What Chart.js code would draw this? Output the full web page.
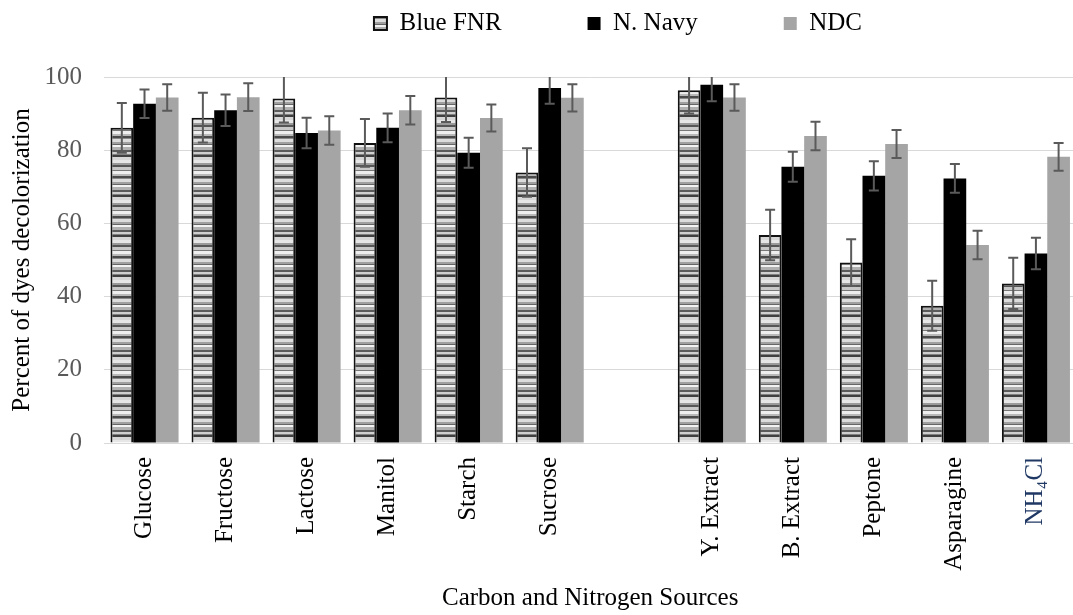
<!DOCTYPE html>
<html>
<head>
<meta charset="utf-8">
<script src="https://cdn.jsdelivr.net/npm/chart.js@4.4.1/dist/chart.umd.min.js"></script>
<style>
html, body { margin: 0; padding: 0; background: #fff; overflow: hidden; }
#contenedor { width: 1080px; height: 615px; position: relative; }
</style>
</head>
<body>
<div id="contenedor"><canvas id="grafico"></canvas></div>
<script>
// Datos del gráfico
var categorias = ['Glucose', 'Fructose', 'Lactose', 'Manitol', 'Starch', 'Sucrose', '',
                  'Y. Extract', 'B. Extract', 'Peptone', 'Asparagine', 'NH\u2084Cl'];
var blueFnr     = [86.1, 88.9, 94.1, 82.0, 94.4, 73.9, null, 96.4, 56.8, 49.3, 37.5, 43.6];
var blueFnrErr  = [6.8, 6.8, 6.5, 6.5, 6.7, 6.6, null, 6.4, 6.9, 6.4, 6.8, 7.0];
var nNavy       = [92.7, 90.9, 84.7, 86.1, 79.3, 97.0, null, 97.9, 75.5, 73.0, 72.3, 51.8];
var nNavyErr    = [3.9, 4.3, 4.2, 3.9, 4.1, 4.3, null, 4.5, 4.1, 4.0, 3.9, 4.3];
var ndc         = [94.4, 94.5, 85.4, 90.9, 88.8, 94.3, null, 94.4, 83.9, 81.7, 54.1, 78.2];
var ndcErr      = [3.6, 3.8, 3.9, 3.9, 3.7, 3.7, null, 3.6, 3.9, 3.8, 3.9, 3.8];
var ticksY      = [0, 20, 40, 60, 80, 100];

var fuente = "'Liberation Serif', 'Times New Roman', serif";
Chart.defaults.font.family = fuente;

// relleno a rayas horizontales irregulares para Blue FNR
function crearRayas() {
    var bandas = [[3, '#e6e6e6'], [2, '#9a9a9a'], [2, '#555555'], [3, '#c8c8c8'], [1, '#777777'],
                  [3, '#eeeeee'], [2, '#b8b8b8'], [2, '#4a4a4a'], [1, '#888888'], [3, '#dcdcdc'],
                  [2, '#a0a0a0'], [1, '#666666'], [2, '#f2f2f2'], [3, '#b0b0b0'], [2, '#5a5a5a'],
                  [2, '#cfcfcf'], [1, '#808080'], [2, '#3f3f3f'], [3, '#d6d6d6']];
    var alto = bandas.reduce(function(s, b) { return s + b[0]; }, 0);
    var c = document.createElement('canvas');
    c.width = 4;
    c.height = alto;
    var g = c.getContext('2d');
    var y = 0;
    bandas.forEach(function(b) {
        g.fillStyle = b[1];
        g.fillRect(0, y, 4, b[0]);
        y += b[0];
    });
    return g.createPattern(c, 'repeat');
}

var barrasError = {
    id: 'barrasError',
    afterDatasetsDraw: function(chart) {
        var ctx = chart.ctx, area = chart.chartArea, escala = chart.scales.y;
        ctx.save();
        ctx.beginPath();
        ctx.rect(area.left, area.top, area.right - area.left, area.bottom - area.top);
        ctx.clip();
        ctx.strokeStyle = '#5a5a5a';
        ctx.lineWidth = 2;
        chart.data.datasets.forEach(function(ds, d) {
            var meta = chart.getDatasetMeta(d);
            meta.data.forEach(function(barra, i) {
                var v = ds.data[i], e = ds.errores[i];
                if (v == null || e == null) return;
                var arriba = escala.getPixelForValue(v + e);
                var abajo = escala.getPixelForValue(v - e);
                ctx.beginPath();
                ctx.moveTo(barra.x, arriba); ctx.lineTo(barra.x, abajo);
                ctx.moveTo(barra.x - 5, arriba); ctx.lineTo(barra.x + 5, arriba);
                ctx.moveTo(barra.x - 5, abajo); ctx.lineTo(barra.x + 5, abajo);
                ctx.stroke();
            });
        });
        ctx.restore();
    }
};

var ajusteLeyenda = {
    id: 'ajusteLeyenda',
    afterInit: function(chart) {
        var leyenda = chart.legend;
        var fitOriginal = leyenda.fit;
        leyenda.fit = function() {
            fitOriginal.call(this);
            this.height = 77;
        };
    },
    afterLayout: function(chart) {
        var leyenda = chart.legend;
        leyenda.top = 11 - leyenda.options.labels.padding;
        leyenda.left += 79;
        leyenda.right += 79;
    }
};

var datos = {
    labels: categorias,
    datasets: [
        {
            label: 'Blue FNR',
            data: blueFnr,
            errores: blueFnrErr,
            backgroundColor: crearRayas(),
            borderColor: '#111111',
            borderWidth: 2
        },
        {
            label: 'N. Navy',
            data: nNavy,
            errores: nNavyErr,
            backgroundColor: '#000000',
            borderColor: '#000000',
            borderWidth: 0
        },
        {
            label: 'NDC',
            data: ndc,
            errores: ndcErr,
            backgroundColor: '#a5a5a5',
            borderWidth: 0
        }
    ]
};

var config = {
    type: 'bar',
    data: datos,
    plugins: [barrasError, ajusteLeyenda],
    options: {
        responsive: true,
        maintainAspectRatio: false,
        animation: false,
        layout: { padding: { left: 0, right: 2, top: 0, bottom: 0 } },
        datasets: {
            bar: { categoryPercentage: 0.84, barPercentage: 1 }
        },
        plugins: {
            tooltip: { enabled: false },
            legend: {
                position: 'top',
                labels: {
                    boxWidth: 13,
                    boxHeight: 13,
                    padding: 86,
                    color: '#000',
                    font: { family: fuente, size: 25 }
                }
            }
        },
        scales: {
            x: {
                grid: { display: false, drawTicks: false },
                border: { display: true, color: '#d9d9d9', width: 1 },
                ticks: {
                    autoSkip: false,
                    maxRotation: 90,
                    minRotation: 90,
                    padding: 14,
                    font: { family: fuente, size: 25 },
                    color: function(c) { return c.index === 11 ? '#203864' : '#000'; }
                },
                title: {
                    display: true,
                    text: 'Carbon and Nitrogen Sources',
                    color: '#000',
                    font: { family: fuente, size: 25 },
                    padding: { top: 0, bottom: 2 }
                },
                afterFit: function(s) { s.height = 172; }
            },
            y: {
                min: ticksY[0],
                max: ticksY[ticksY.length - 1],
                afterBuildTicks: function(s) {
                    s.ticks = ticksY.map(function(v) { return { value: v }; });
                },
                grid: { color: '#d9d9d9', lineWidth: 1, drawTicks: false },
                border: { display: false },
                ticks: {
                    padding: 22,
                    color: '#595959',
                    font: { family: fuente, size: 25 }
                },
                title: {
                    display: true,
                    text: 'Percent of dyes decolorization',
                    color: '#000',
                    font: { family: fuente, size: 25 },
                    padding: { top: 7, bottom: 0 }
                },
                afterFit: function(s) { s.width = 104; }
            }
        }
    }
};

var graficoBarras = new Chart(document.getElementById('grafico'), config);
</script>
</body>
</html>
